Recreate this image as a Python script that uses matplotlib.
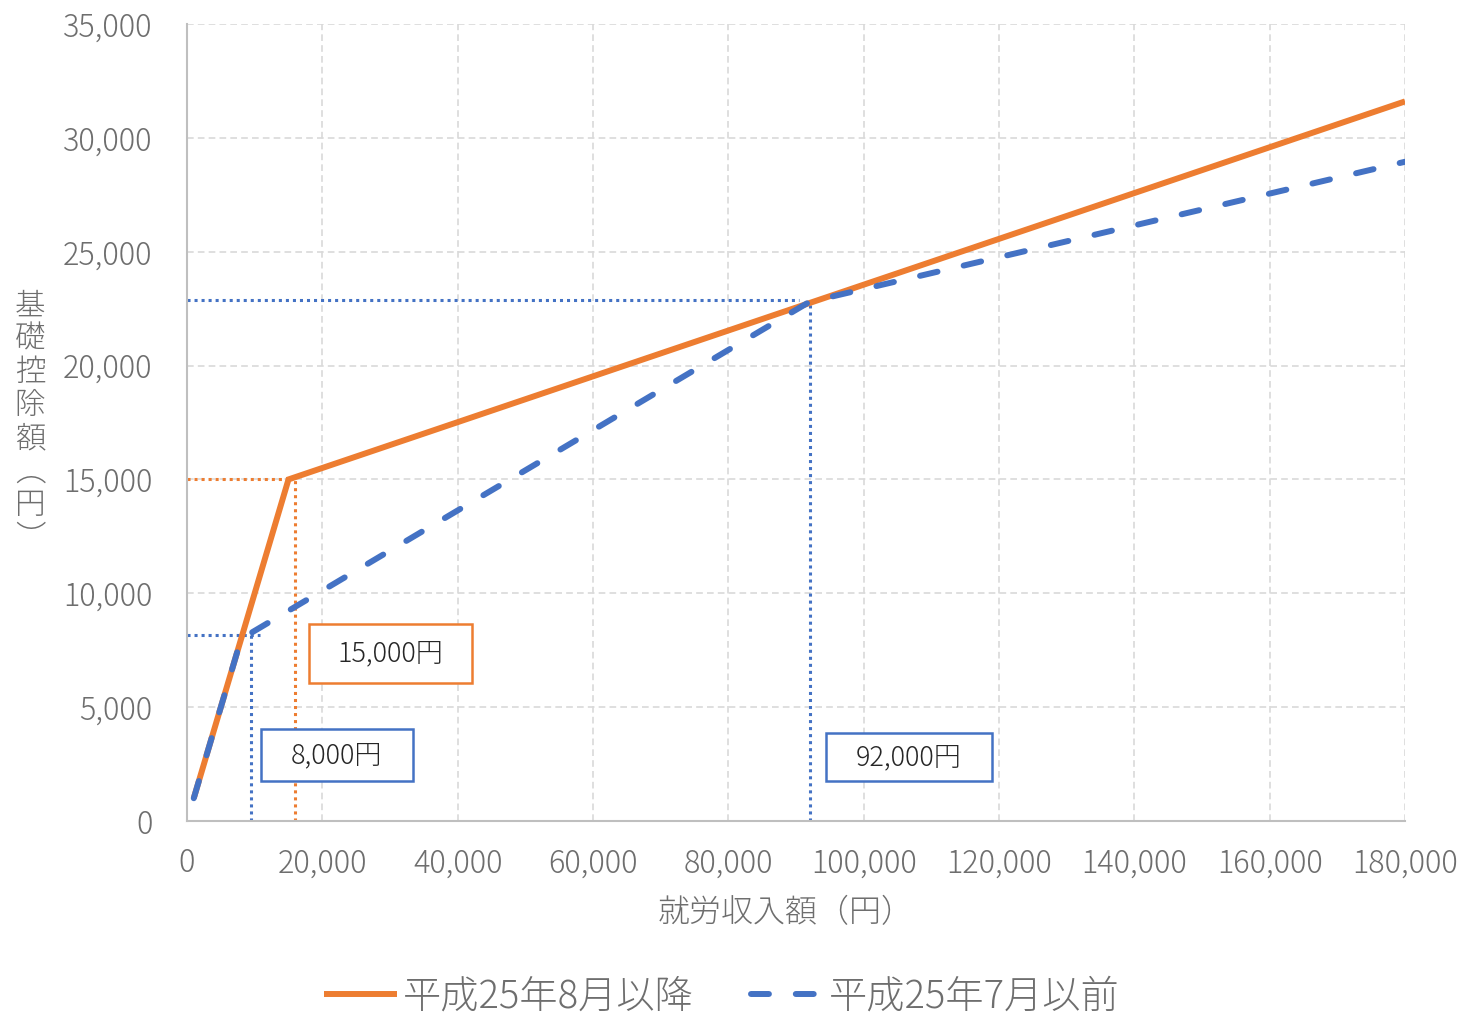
import matplotlib
matplotlib.use("Agg")
import matplotlib.pyplot as plt
from matplotlib.patches import Rectangle
from matplotlib.ticker import FuncFormatter

plt.rcParams['font.family'] = ['Noto Sans CJK JP', 'DejaVu Sans']
plt.rcParams['font.weight'] = 'light'

# Basic deduction by earned income
after_x = [1000, 15000, 180000]
after_y = [1000, 15000, 31600]
before_x = [1000, 8000, 92000, 180000]
before_y = [1000, 8000, 22800, 28950]

series_names = ['平成25年8月以降', '平成25年7月以前']
x_ticks = list(range(0, 180001, 20000))
y_ticks = list(range(0, 35001, 5000))

# Reference guides (dotted): (x0, x1, y0, y1)
guide_orange = [(0, 15000, 15000, 15000), (16000, 16000, 0, 15000)]
guide_blue = [(0, 10800, 8170, 8170), (9400, 9400, 0, 8170),
              (0, 90500, 22900, 22900), (92100, 92100, 0, 22700)]

# Callout boxes: label, x0, x1, y0, y1, colour
callouts = [('15,000円', 18030, 42120, 6060, 8650, '#ED7D31'),
            ('8,000円', 10930, 33400, 1760, 4040, '#4472C4'),
            ('92,000円', 94430, 118970, 1760, 3860, '#4472C4')]

ORANGE = '#ED7D31'
BLUE = '#4472C4'
GRAY = '#6e6e6e'

fig = plt.figure(figsize=(14.6, 10.16), dpi=100)
ax = fig.add_axes([187 / 1460, 1 - 821 / 1016, (1405 - 187) / 1460, (821 - 24) / 1016])

ax.set_xlim(0, 180000)
ax.set_ylim(0, 35000)
ax.set_xticks(x_ticks)
ax.set_yticks(y_ticks)
fmt = FuncFormatter(lambda v, p: f'{int(v):,}')
ax.xaxis.set_major_formatter(fmt)
ax.yaxis.set_major_formatter(fmt)
ax.tick_params(axis='both', length=0, labelsize=22, labelcolor=GRAY)
ax.tick_params(axis='y', pad=25)
ax.tick_params(axis='x', pad=19)

ax.grid(True, color='#d9d9d9', linestyle=(0, (4, 2.5)), linewidth=1.2)
ax.set_axisbelow(True)
for s in ['top', 'right']:
    ax.spines[s].set_visible(False)
for s in ['left', 'bottom']:
    ax.spines[s].set_color('#bfbfbf')
    ax.spines[s].set_linewidth(1.5)

for x0, x1, y0, y1 in guide_orange:
    ax.plot([x0, x1], [y0, y1], color=ORANGE, lw=2.2, linestyle=(0, (1, 1.3)),
            dash_capstyle='butt', clip_on=False, zorder=2)
for x0, x1, y0, y1 in guide_blue:
    ax.plot([x0, x1], [y0, y1], color=BLUE, lw=2.2, linestyle=(0, (1, 1.3)),
            dash_capstyle='butt', clip_on=False, zorder=2)

l1, = ax.plot(after_x, after_y, color=ORANGE, lw=4.3, solid_capstyle='butt',
              solid_joinstyle='miter', zorder=3, label=series_names[0])
l2, = ax.plot(before_x, before_y, color=BLUE, lw=4.3, linestyle=(0, (3.0, 4.5)),
              dash_capstyle='round', zorder=4, label=series_names[1])

for label, x0, x1, y0, y1, col in callouts:
    ax.add_patch(Rectangle((x0, y0), x1 - x0, y1 - y0, facecolor='white',
                           edgecolor=col, lw=1.8, zorder=5))
    ax.text((x0 + x1) / 2, (y0 + y1) / 2, label, ha='center', va='center',
            fontsize=19.5, color='#262626', zorder=6)

fig.text(786 / 1460, 1 - 913 / 1016, '就労収入額（円）', ha='center', va='center',
         fontsize=23, color=GRAY)
fig.text(30 / 1460, 1 - 422 / 1016, '基\n礎\n控\n除\n額\n︵\n円\n︶', ha='center',
         va='center', fontsize=22, color=GRAY, linespacing=1.05)

fig.legend(handles=[l1, l2], loc='center', bbox_to_anchor=(722 / 1460, 1 - 997 / 1016),
           ncol=2, frameon=False, fontsize=27.5, labelcolor=GRAY,
           handlelength=1.9, handletextpad=0.15, columnspacing=1.5)

fig.savefig('out.png', dpi=100)
